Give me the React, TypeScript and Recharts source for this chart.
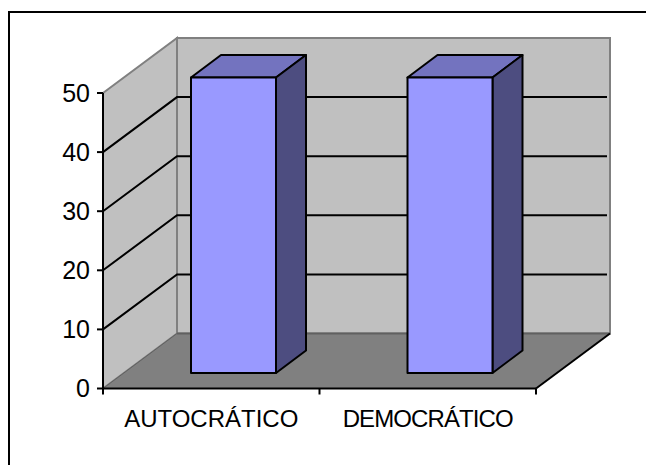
import { Bar, BarChart, CartesianGrid, XAxis, YAxis, usePlotArea } from 'recharts';

const categories = ['AUTOCRÁTICO', 'DEMOCRÁTICO'];
const seriesValues = [50, 50];
const yTicks = [0, 10, 20, 30, 40, 50];

const data = categories.map((name, i) => ({ name, value: seriesValues[i] }));

// projection of the fake 3D box
const WALL_DX = 74;
const WALL_DY = -55;
const BAR_DX = 22;
const BAR_DY = -15.5;
const BAR_DEPTH_X = 30;
const BAR_DEPTH_Y = -22.5;

const FONT = '"Liberation Sans", Arial, sans-serif';

const pts = (list: number[][]) => list.map((p) => p.join(',')).join(' ');

const Walls = () => {
  const area = usePlotArea();
  if (!area) return null;
  const { x, y, width, height } = area;
  const bottom = y + height;
  const right = x + width;
  return (
    <g>
      <polygon
        points={pts([[x + WALL_DX, y + WALL_DY], [right + WALL_DX, y + WALL_DY], [right + WALL_DX, bottom + WALL_DY], [x + WALL_DX, bottom + WALL_DY]])}
        fill="#C0C0C0"
        stroke="#808080"
        strokeWidth={2}
      />
      <polygon
        points={pts([[x, y], [x + WALL_DX, y + WALL_DY], [x + WALL_DX, bottom + WALL_DY], [x, bottom]])}
        fill="#C0C0C0"
        stroke="#808080"
        strokeWidth={2}
      />
      <polygon
        points={pts([[x, bottom], [x + WALL_DX, bottom + WALL_DY], [right + WALL_DX, bottom + WALL_DY], [right, bottom]])}
        fill="#808080"
      />
      <line x1={x} y1={bottom} x2={x + WALL_DX} y2={bottom + WALL_DY} stroke="#606060" strokeWidth={1} />
      <line x1={x + WALL_DX} y1={bottom + WALL_DY} x2={right + WALL_DX} y2={bottom + WALL_DY} stroke="#606060" strokeWidth={2} />
      <line x1={right} y1={bottom} x2={right + WALL_DX} y2={bottom + WALL_DY} stroke="#000" strokeWidth={2} />
    </g>
  );
};

const GridLine3D = (props: any) => {
  const { x1, x2, y1, index } = props;
  // first and last lines are the box edges
  if (index === 0 || index === yTicks.length - 1) return <g key={props.key} />;
  return (
    <polyline
      key={props.key}
      points={pts([[x1, y1], [x1 + WALL_DX, y1 + WALL_DY], [x2 + WALL_DX - 3, y1 + WALL_DY]])}
      fill="none"
      stroke="#000"
      strokeWidth={2}
    />
  );
};

const Bar3D = (props: any) => {
  const { x, y, width, height } = props;
  const l = x + BAR_DX;
  const r = l + width;
  const t = y + BAR_DY;
  const b = t + height;
  const dx = BAR_DEPTH_X;
  const dy = BAR_DEPTH_Y;
  return (
    <g stroke="#000" strokeWidth={2} strokeLinejoin="round">
      <polygon points={pts([[l, t], [l + dx, t + dy], [r + dx, t + dy], [r, t]])} fill="#7373BF" />
      <polygon points={pts([[r, t], [r + dx, t + dy], [r + dx, b + dy], [r, b]])} fill="#4D4D80" />
      <rect x={l} y={t} width={width} height={height} fill="#9999FF" />
    </g>
  );
};

// ticks sit on the category boundaries, not on the band centres
const BoundaryTicks = () => {
  const area = usePlotArea();
  if (!area) return null;
  const bottom = area.y + area.height;
  return (
    <g>
      {[0, 1, 2].map((i) => {
        const tx = area.x + (i * area.width) / categories.length;
        return <line key={i} x1={tx} y1={bottom} x2={tx} y2={bottom + 6} stroke="#000" strokeWidth={2} />;
      })}
    </g>
  );
};

const CategoryTick = (props: any) => {
  const { x, y, payload, index } = props;
  return (
    <text
      x={x}
      y={y}
      dy={18}
      textAnchor="middle"
      fill="#000"
      fontSize={24}
      fontFamily={FONT}
      letterSpacing={index === 1 ? -0.9 : 0}
    >
      {payload.value}
    </text>
  );
};

export default function App() {
  return (
    <div style={{ position: 'absolute', left: 0, top: 0, width: 646, height: 465, background: '#fff', overflow: 'hidden' }}>
      <div style={{ position: 'absolute', left: 8, top: 11, width: 638, height: 454, borderLeft: '2px solid #000', borderTop: '2px solid #000', boxSizing: 'border-box' }} />
      <div style={{ position: 'absolute', left: 0, top: 0 }}>
        <BarChart
          width={646}
          height={465}
          data={data}
          margin={{ top: 93, right: 110, bottom: 46.5, left: 0 }}
          barSize={85}
        >
          <Walls />
          <CartesianGrid horizontal={GridLine3D as any} vertical={false} zIndex={1} />
          <XAxis
            dataKey="name"
            height={30}
            axisLine={{ stroke: '#000', strokeWidth: 2 }}
            tickLine={false}
            tickMargin={14}
            interval={0}
            tick={CategoryTick}
          />
          <YAxis
            domain={[0, 50]}
            ticks={yTicks}
            width={103}
            axisLine={{ stroke: '#000', strokeWidth: 2 }}
            tickLine={{ stroke: '#000', strokeWidth: 2 }}
            tickSize={6}
            tickMargin={7}
            tick={{ fill: '#000', fontSize: 25, fontFamily: FONT }}
          />
          <BoundaryTicks />
          <Bar dataKey="value" shape={Bar3D} isAnimationActive={false} />
        </BarChart>
      </div>
    </div>
  );
}
